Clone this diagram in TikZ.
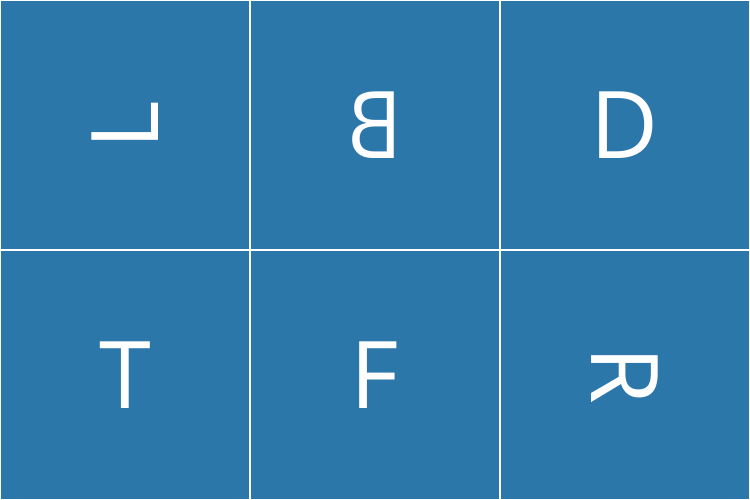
\documentclass[tikz,border=0pt]{standalone}
\usepackage{fontspec}
\setmainfont{Open Sans}
\usepackage{graphicx}
\definecolor{cellblue}{RGB}{44,119,170}
\tikzset{
  cell/.style={rectangle, fill=cellblue, draw=white, line width=2.6bp,
    minimum width=250bp, minimum height=250bp, inner sep=0pt, outer sep=0pt,
    text=white, font=\fontsize{93.4bp}{93.4bp}\selectfont}
}
\begin{document}
\begin{tikzpicture}[x=1bp,y=1bp]
\useasboundingbox (0,0) rectangle (750,500);
\fill[white] (0,0) rectangle (750,500);
\node[cell] (cL) at (125,375) {\rotatebox{90}{L}};
\node[cell] (cB) at (375,375) {\scalebox{-0.9}[1]{B}};
\node[cell] (cD) at (625,375) {D};
\node[cell] (cT) at (125,125) {T};
\node[cell] (cF) at (375,125) {F};
\node[cell] (cR) at (625,125) {\rotatebox{-90}{R}};
\end{tikzpicture}
\end{document}
